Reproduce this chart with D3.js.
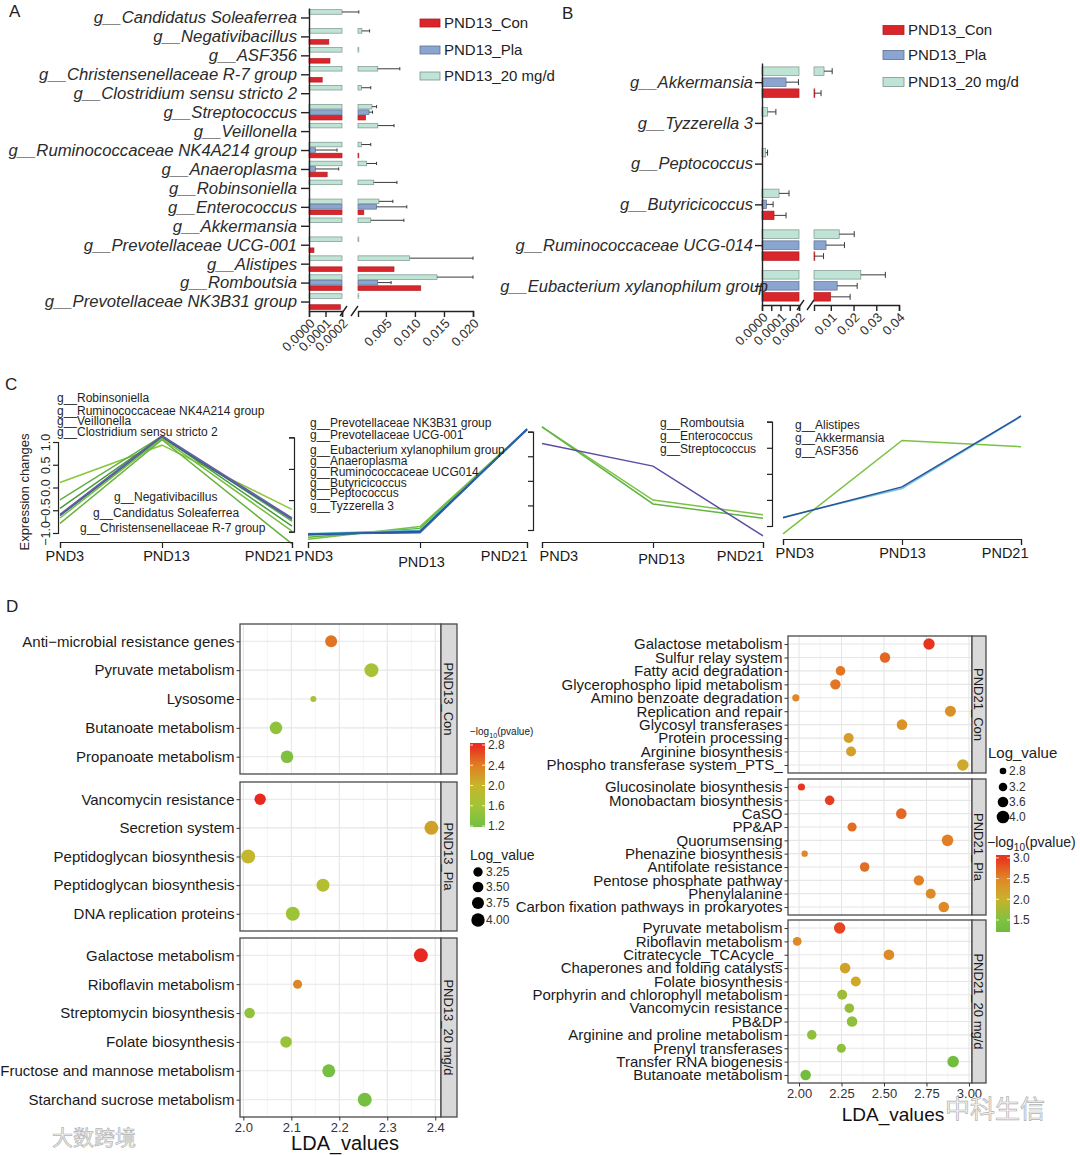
<!DOCTYPE html>
<html>
<head>
<meta charset="utf-8">
<script src="https://d3js.org/d3.v7.min.js"></script>
<style>
  body { margin: 0; background: #fff; }
  svg text { font-family: "Liberation Sans", Arial, Helvetica, sans-serif; }
</style>
</head>
<body>
<svg id="fig" width="1080" height="1155"></svg>
<script>
const FONT = "'Liberation Sans', Arial, Helvetica, sans-serif";

// ---------------- panel A data ----------------
const groups = ["PND13_Con", "PND13_Pla", "PND13_20 mg/d"];
const genusA = [
  "g__Candidatus Soleaferrea", "g__Negativibacillus", "g__ASF356",
  "g__Christensenellaceae R-7 group", "g__Clostridium sensu stricto 2",
  "g__Streptococcus", "g__Veillonella", "g__Ruminococcaceae NK4A214 group",
  "g__Anaeroplasma", "g__Robinsoniella", "g__Enterococcus", "g__Akkermansia",
  "g__Prevotellaceae UCG-001", "g__Alistipes", "g__Romboutsia",
  "g__Prevotellaceae NK3B31 group"];
const conA    = [0, 0.00012, 0.000127, 0.00008, 0, 0.0015, 0, 0.00025, 0.00011, 0, 0.0012, 0, 0.00003, 0.0064, 0.011, 0.00019];
const conAErr = [0, 0, 0, 0, 0, 0, 0, 0, 0, 0, 0, 0, 0, 0, 0, 0];
const plaA    = [0, 0, 0, 0, 0, 0.0021, 0, 0.00004, 0.00004, 0, 0.0034, 0, 0, 0, 0.0036, 0];
const plaAErr = [0, 0, 0, 0, 0, 0.0027, 0, 0.00017, 0.00018, 0, 0.0086, 0, 0, 0, 0.0059, 0];
const mgA     = [0.0002, 0.00086, 0.0003, 0.0036, 0.0008, 0.0026, 0.0036, 0.0008, 0.0017, 0.0029, 0.0038, 0.0024, 0.0003, 0.0091, 0.0138, 0.0003];
const mgAErr  = [0.00034, 0.0022, 0, 0.0074, 0.0024, 0.0034, 0.0064, 0.0024, 0.0034, 0.0069, 0.0062, 0.0081, 0, 0.020, 0.020, 0];
const ticksAL = [0, 0.0001, 0.0002];
const labelsAL = ["0.0000", "0.0001", "0.0002"];
const ticksAR = [0.005, 0.010, 0.015, 0.020];
const labelsAR = ["0.005", "0.010", "0.015", "0.020"];

// ---------------- panel B data ----------------
const genusB = ["g__Akkermansia", "g__Tyzzerella 3", "g__Peptococcus", "g__Butyricicoccus",
  "g__Ruminococcaceae UCG-014", "g__Eubacterium xylanophilum group"];
const conB    = [0.0026, 0, 0, 0.000065, 0.0026, 0.0099];
const conBErr = [0.0057, 0, 0, 0.00013, 0.0068, 0.0185];
const plaB    = [0.00013, 0, 0, 0.000024, 0.0079, 0.0128];
const plaBErr = [0.000197, 0, 0, 0.00006, 0.016, 0.0216];
const mgB     = [0.0070, 0.00003, 0.00002, 0.000092, 0.0137, 0.0232];
const mgBErr  = [0.0106, 0.000075, 0.00003, 0.000146, 0.0203, 0.034];
const ticksBL = [0, 0.00005, 0.0001, 0.00015, 0.0002];
const labelsBL = ["0.0000", "", "0.0001", "", "0.0002"];
const ticksBR = [0.01, 0.02, 0.03, 0.04];
const labelsBR = ["0.01", "0.02", "0.03", "0.04"];

// ---------------- panel C data ----------------
const times = ["PND3", "PND13", "PND21"];
const c1Top = ["g__Robinsoniella", "g__Ruminococcaceae NK4A214 group", "g__Veillonella", "g__Clostridium sensu stricto 2"];
const c1Bottom = ["g__Negativibacillus", "g__Candidatus Soleaferrea", "g__Christensenellaceae R-7 group"];
const c1Lines = [[0.11, 0.93, -0.48], [-0.27, 1.13, -0.74], [-0.46, 1.12, -0.85], [-0.59, 1.14, -0.67],
                 [-0.62, 1.10, -0.70], [-0.67, 1.08, -0.96], [-0.79, 1.05, -1.24]];
const c2Genera = ["g__Prevotellaceae NK3B31 group", "g__Prevotellaceae UCG-001", "g__Eubacterium xylanophilum group",
  "g__Anaeroplasma", "g__Ruminococcaceae UCG014", "g__Butyricicoccus", "g__Peptococcus", "g__Tyzzerella 3"];
const c2Lines = [[-1.16, -0.89, 1.17], [-1.12, -0.93, 1.16], [-1.04, -0.97, 1.15], [-1.05, -0.98, 1.16],
                 [-1.07, -0.99, 1.17], [-1.05, -1.01, 1.18], [-1.06, -1.00, 1.17], [-1.05, -1.02, 1.17]];
const c3Genera = ["g__Romboutsia", "g__Enterococcus", "g__Streptococcus"];
const c3Lines = [[1.10, -0.39, -0.69], [1.10, -0.47, -0.76], [0.76, 0.30, -1.12]];
const c4Genera = ["g__Alistipes", "g__Akkermansia", "g__ASF356"];
const c4Lines = [[-1.15, 0.64, 0.52], [-0.83, -0.28, 1.10], [-0.84, -0.25, 1.11]];

// ---------------- panel D data ----------------
const dL1 = ["Anti\u2212microbial resistance genes", "Pyruvate metabolism", "Lysosome", "Butanoate metabolism", "Propanoate metabolism"];
const dL1Lda = [2.183, 2.267, 2.146, 2.068, 2.091];
const dL1Log = [3.74, 4.11, 2.61, 3.85, 3.85];
const dL1P   = [2.45, 1.65, 1.65, 1.45, 1.3];
const dL2 = ["Vancomycin resistance", "Secretion system", "Peptidoglycan biosynthesis", "Peptidoglycan biosynthesis", "DNA replication proteins"];
const dL2Lda = [2.035, 2.392, 2.010, 2.166, 2.103];
const dL2Log = [3.62, 4.11, 4.11, 3.92, 4.11];
const dL2P   = [2.8, 2.15, 1.95, 1.8, 1.55];
const dL3 = ["Galactose metabolism", "Riboflavin metabolism", "Streptomycin biosynthesis", "Folate biosynthesis",
  "Fructose and mannose metabolism", "Starchand sucrose metabolism"];
const dL3Lda = [2.370, 2.113, 2.013, 2.089, 2.178, 2.253];
const dL3Log = [4.11, 3.18, 3.47, 3.66, 3.92, 4.11];
const dL3P   = [2.84, 2.35, 1.45, 1.5, 1.22, 1.22];
const dLTicks = [2.0, 2.1, 2.2, 2.3, 2.4];
const dLMinor = [2.05, 2.15, 2.25, 2.35];
const dLColorTicks = [2.8, 2.4, 2.0, 1.6, 1.2];
const dLSizeTicks = [3.25, 3.50, 3.75, 4.00];

const dR1 = ["Galactose metabolism", "Sulfur relay system", "Fatty acid degradation", "Glycerophospho lipid metabolism",
  "Amino benzoate degradation", "Replication and repair", "Glycosyl transferases", "Protein processing",
  "Arginine biosynthesis", "Phospho transferase system_PTS_"];
const dR1Lda = [2.765, 2.506, 2.244, 2.214, 1.981, 2.891, 2.606, 2.292, 2.306, 2.964];
const dR1Log = [3.76, 3.56, 3.40, 3.56, 2.92, 3.68, 3.60, 3.48, 3.48, 3.76];
const dR1P   = [3.05, 2.7, 2.6, 2.6, 2.5, 2.4, 2.35, 2.25, 2.2, 2.1];
const dR2 = ["Glucosinolate biosynthesis", "Monobactam biosynthesis", "CaSO", "PP&AP", "Quorumsensing",
  "Phenazine biosynthesis", "Antifolate resistance", "Pentose phosphate pathway", "Phenylalanine",
  "Carbon fixation pathways in prokaryotes"];
const dR2Lda = [2.014, 2.180, 2.602, 2.312, 2.874, 2.033, 2.386, 2.705, 2.775, 2.852];
const dR2Log = [2.92, 3.40, 3.60, 3.32, 3.80, 2.75, 3.40, 3.56, 3.48, 3.60];
const dR2P   = [3.05, 2.95, 2.7, 2.65, 2.55, 2.5, 2.65, 2.55, 2.45, 2.45];
const dR3 = ["Pyruvate metabolism", "Riboflavin metabolism", "Citratecycle_TCAcycle_", "Chaperones and folding catalysts",
  "Folate biosynthesis", "Porphyrin and chlorophyll metabolism", "Vancomycin resistance", "PB&DP",
  "Arginine and proline metabolism", "Prenyl transferases", "Transfer RNA biogenesis", "Butanoate metabolism"];
const dR3Lda = [2.239, 1.989, 2.529, 2.271, 2.334, 2.254, 2.296, 2.312, 2.075, 2.249, 2.907, 2.039];
const dR3Log = [3.76, 3.24, 3.60, 3.60, 3.48, 3.48, 3.40, 3.60, 3.40, 3.28, 3.80, 3.60];
const dR3P   = [2.9, 2.5, 2.45, 2.2, 2.1, 1.7, 1.65, 1.6, 1.6, 1.6, 1.3, 1.3];
const dRTicks = [2.0, 2.25, 2.5, 2.75, 3.0];
const dRMinor = [2.125, 2.375, 2.625, 2.875];
const dRColorTicks = [3.0, 2.5, 2.0, 1.5];
const dRSizeTicks = [2.8, 3.2, 3.6, 4.0];

const svg = d3.select("#fig");

// ---------------- broken-axis bar chart (A, B) ----------------
function brokenBars(o) {
  const g = svg.append("g");
  const n = o.genera.length;
  const y = d3.scalePoint().domain(d3.range(n)).range(o.yRange).padding(o.pad);
  const xl = d3.scaleLinear().domain([0, o.brk]).range([o.x0, o.xb]);
  const xr = d3.scaleLinear().domain(o.rDomain).range(o.rRange);
  const rs = o.rRange[0];
  const pos = v => v <= o.brk ? xl(v) : Math.max(rs, xr(v));

  o.series.forEach((s, k) => {
    const on = d3.range(n).filter(i => s.v[i] > 0);
    const cy = i => y(i) + o.off[k];
    g.append("g").selectAll("rect").data(on).join("rect")
      .attr("x", o.x0).attr("y", i => cy(i) - o.bh / 2)
      .attr("width", i => xl(Math.min(s.v[i], o.brk)) - o.x0)
      .attr("height", o.bh)
      .attr("fill", s.fill).attr("stroke", s.stroke).attr("stroke-width", 0.7);
    g.append("g").selectAll("rect").data(on.filter(i => s.v[i] > o.brk)).join("rect")
      .attr("x", rs).attr("y", i => cy(i) - o.bh / 2)
      .attr("width", i => Math.max(0.8, xr(s.v[i]) - rs))
      .attr("height", o.bh)
      .attr("fill", s.fill).attr("stroke", s.stroke).attr("stroke-width", 0.7);
    g.append("g").selectAll("path").data(on.filter(i => s.e[i] > s.v[i])).join("path")
      .attr("d", i => {
        const a = pos(s.v[i]), b = pos(s.e[i]), c = cy(i);
        return `M${a},${c}H${b}M${b},${c - o.cap}V${c + o.cap}`;
      })
      .attr("stroke", "#3a3a3a").attr("stroke-width", 1).attr("fill", "none");
  });

  // category axis
  const ay = g.append("g").attr("transform", `translate(${o.x0},0)`)
    .call(d3.axisLeft(y).tickSize(o.tick).tickPadding(o.tpad).tickSizeOuter(0).tickFormat(i => o.genera[i]))
    .attr("font-family", FONT);
  ay.selectAll("text").style("font-size", o.fs + "px").style("font-style", "italic")
    .attr("fill", "#2b2b2b").attr("dx", i => o.shift[i]);
  ay.selectAll("line,path").attr("stroke", "#222").attr("stroke-width", 1.4);

  // broken value axis
  const xa = g.append("g").attr("transform", `translate(0,${o.yRange[1]})`);
  xa.append("g").call(d3.axisBottom(xl).tickValues(o.lTicks).tickSizeOuter(0).tickSize(6)
    .tickFormat((d, i) => o.lLabels[i]));
  xa.append("g").call(d3.axisBottom(xr).tickValues(o.rTicks).tickSizeOuter(0).tickSize(6)
    .tickFormat((d, i) => o.rLabels[i]));
  xa.selectAll("g").attr("font-family", FONT);
  xa.selectAll("line,path").attr("stroke", "#222").attr("stroke-width", 1.4);
  xa.selectAll("text").attr("x", 0).attr("y", 0).attr("dy", "0.35em")
    .attr("transform", "translate(3,10) rotate(-45)").attr("text-anchor", "end")
    .style("font-size", "13px").attr("fill", "#333");
  xa.append("path").attr("d", `M${o.xb - 2},5L${o.xb + 5},-5M${rs - 7},5L${rs},-5`)
    .attr("stroke", "#222").attr("stroke-width", 1.4).attr("fill", "none");

  // legend
  const lg = g.append("g");
  groups.forEach((name, i) => {
    const s = o.series[i], ly = o.legY[i];
    lg.append("rect").attr("x", o.legX).attr("y", ly - o.legH / 2).attr("width", o.legW).attr("height", o.legH)
      .attr("fill", s.fill).attr("stroke", s.stroke).attr("stroke-width", 0.8);
    lg.append("text").attr("x", o.legX + o.legW + 4).attr("y", ly).attr("dy", "0.36em")
      .style("font-size", "15px").attr("fill", "#222").text(name);
  });
}

const conStyle = { fill: "#d8262c", stroke: "#b21d22" };
const plaStyle = { fill: "#8aa5cf", stroke: "#5c6f92" };
const mgStyle  = { fill: "#bfe3d4", stroke: "#7d958c" };

brokenBars({
  genera: genusA, yRange: [8, 311], pad: 0.5, x0: 309, xb: 342, brk: 0.0002,
  rDomain: [0.0002, 0.02], rRange: [358, 473],
  series: [
    Object.assign({ v: conA, e: conAErr }, conStyle),
    Object.assign({ v: plaA, e: plaAErr }, plaStyle),
    Object.assign({ v: mgA, e: mgAErr }, mgStyle)],
  off: [5.5, 0, -5.5], bh: 4.6, cap: 1.6, tick: 8, tpad: 4, fs: 16.7,
  shift: genusA.map(() => 0),
  lTicks: ticksAL, lLabels: labelsAL, rTicks: ticksAR, rLabels: labelsAR,
  legX: 420, legW: 20, legH: 8, legY: [23, 50, 76]
});

brokenBars({
  genera: genusB, yRange: [63, 305], pad: 0.47, x0: 762, xb: 799, brk: 0.0002,
  rDomain: [0.0026, 0.04], rRange: [814, 899],
  series: [
    Object.assign({ v: conB, e: conBErr }, conStyle),
    Object.assign({ v: plaB, e: plaBErr }, plaStyle),
    Object.assign({ v: mgB, e: mgBErr }, mgStyle)],
  off: [11, 0, -11], bh: 8.5, cap: 3, tick: 7, tpad: 2, fs: 16.5,
  shift: [0, 0, 0, 0, 0, 15],
  lTicks: ticksBL, lLabels: labelsBL, rTicks: ticksBR, rLabels: labelsBR,
  legX: 883, legW: 21, legH: 9, legY: [30, 55, 82]
});

// ---------------- panel C: trend lines ----------------
function linePanel(o) {
  const g = svg.append("g");
  const x = d3.scaleLinear().domain([0, 1, 2]).range(o.xs);
  const y = d3.scaleLinear().domain([-1, 1]).range(o.ys);
  g.selectAll("path.ln").data(o.lines).join("path").attr("class", "ln")
    .attr("d", d3.line().x((d, i) => x(i)).y(d => y(d)))
    .attr("fill", "none").attr("stroke", (d, i) => o.colors[i]).attr("stroke-width", 1.5);

  const yAxis = d3.axisLeft(y).tickValues(o.yTicks).tickSize(5);
  yAxis.tickFormat(o.yLabels ? d3.format(".1f") : "");
  const ay = g.append("g").attr("transform", `translate(${o.yAxisX},0)`).call(yAxis).attr("font-family", FONT);
  ay.selectAll("line,path").attr("stroke", "#222").attr("stroke-width", 1.2);
  ay.selectAll("text").attr("x", 0).attr("dy", 0).attr("transform", "translate(-8,0) rotate(-90)")
    .attr("text-anchor", "middle").style("font-size", "12.5px").attr("fill", "#222");

  const ax = g.append("g").attr("transform", `translate(0,${o.xAxisY})`)
    .call(d3.axisBottom(x).tickValues([0, 1, 2]).tickSizeOuter(0).tickSize(6).tickFormat(i => times[i]))
    .attr("font-family", FONT);
  ax.selectAll("line,path").attr("stroke", "#222").attr("stroke-width", 1.2);
  ax.selectAll("text").style("font-size", "14.5px").attr("fill", "#1a1a1a")
    .attr("text-anchor", (d, i) => ["start", "middle", "end"][i])
    .attr("dx", (d, i) => o.lblDx[i]).attr("y", (d, i) => 9 + o.lblDy[i]);

  g.selectAll("text.gl").data(o.labels).join("text").attr("class", "gl")
    .attr("x", (d, i) => o.labelPos[i][0]).attr("y", (d, i) => o.labelPos[i][1])
    .style("font-size", "12px").attr("fill", "#1e1e1e").text(d => d);
}

linePanel({
  xs: [60, 162, 292], ys: [533, 442], yAxisX: 58, xAxisY: 542,
  yTicks: [-1, -0.5, 0, 0.5, 1], yLabels: true,
  lines: c1Lines,
  colors: ["#8cc63f", "#5fb246", "#4a9a3a", "#6b5aa6", "#3f5d96", "#76bd43", "#67b23e"],
  labels: c1Top.concat(c1Bottom),
  labelPos: [[57, 402], [57, 415], [57, 425], [57, 436], [114, 501], [93, 517], [80, 532]],
  lblDx: [-15, 4, -1], lblDy: [0, 0, 0]
});
linePanel({
  xs: [308, 420, 527], ys: [531.7, 437.3], yAxisX: 294, xAxisY: 542,
  yTicks: [-1, -0.33, 0.33, 1], yLabels: false,
  lines: c2Lines,
  colors: ["#7cc242", "#5fb246", "#93d5e2", "#3ba3b5", "#2d8c9e", "#3b7fc0", "#263f84", "#2f63ad"],
  labels: c2Genera,
  labelPos: [[310, 427], [310, 439], [310, 454], [310, 465], [310, 476], [310, 487], [310, 497], [310, 510]],
  lblDx: [-14, 1, 0], lblDy: [0, 6, 0]
});
linePanel({
  xs: [542, 653, 763], ys: [530, 431.7], yAxisX: 533, xAxisY: 542,
  yTicks: [-1, -0.5, 0, 0.5, 1], yLabels: false,
  lines: c3Lines,
  colors: ["#7cc242", "#62b446", "#5a4ea3"],
  labels: c3Genera,
  labelPos: [[660, 427], [660, 440], [660, 453]],
  lblDx: [-3, 8, 0], lblDy: [0, 3, 0]
});
linePanel({
  xs: [783, 902, 1021], ys: [526, 421.7], yAxisX: 772, xAxisY: 539,
  yTicks: [-1, -0.5, 0, 0.5, 1], yLabels: false,
  lines: c4Lines,
  colors: ["#7cc242", "#6fc6d8", "#2a4f9b"],
  labels: c4Genera,
  labelPos: [[795, 429], [795, 442], [795, 455]],
  lblDx: [-8, 0, 7], lblDy: [0, 0, 0]
});
svg.append("text").attr("transform", "translate(29,492) rotate(-90)").attr("text-anchor", "middle")
  .style("font-size", "13px").attr("fill", "#222").text("Expression changes");

// ---------------- panel D: LDA dot plots ----------------
function dotFacets(o) {
  const g = svg.append("g");
  const x = d3.scaleLinear().domain(o.xDomain).range([o.x0, o.x1]);
  o.facets.forEach(f => {
    const n = f.items.length;
    const y = d3.scalePoint().domain(d3.range(n)).range([f.top, f.bottom]).padding(0.6);
    const fg = g.append("g");
    fg.append("rect").attr("x", o.x0).attr("y", f.top).attr("width", o.x1 - o.x0).attr("height", f.bottom - f.top)
      .attr("fill", "#fff");
    fg.selectAll("line.mi").data(o.minor).join("line").attr("class", "mi")
      .attr("x1", d => x(d)).attr("x2", d => x(d)).attr("y1", f.top).attr("y2", f.bottom)
      .attr("stroke", "#f0f0f0").attr("stroke-width", 0.7);
    fg.selectAll("line.ma").data(o.major).join("line").attr("class", "ma")
      .attr("x1", d => x(d)).attr("x2", d => x(d)).attr("y1", f.top).attr("y2", f.bottom)
      .attr("stroke", "#e6e6e6").attr("stroke-width", 1.1);
    fg.selectAll("line.hy").data(d3.range(n)).join("line").attr("class", "hy")
      .attr("x1", o.x0).attr("x2", o.x1).attr("y1", i => y(i)).attr("y2", i => y(i))
      .attr("stroke", "#e6e6e6").attr("stroke-width", 1.1);
    fg.selectAll("circle").data(d3.range(n)).join("circle")
      .attr("cx", i => x(f.lda[i])).attr("cy", i => y(i))
      .attr("r", i => o.size(f.logv[i])).attr("fill", i => o.color(f.pv[i]));
    fg.append("rect").attr("x", o.x0).attr("y", f.top).attr("width", o.x1 - o.x0).attr("height", f.bottom - f.top)
      .attr("fill", "none").attr("stroke", "#4a4a4a").attr("stroke-width", 1.3);
    fg.append("rect").attr("x", o.x1).attr("y", f.top).attr("width", o.sw).attr("height", f.bottom - f.top)
      .attr("fill", "#d9d9d9").attr("stroke", "#4a4a4a").attr("stroke-width", 1.3);
    fg.append("text").attr("transform", `translate(${o.x1 + o.sw / 2},${(f.top + f.bottom) / 2}) rotate(90)`)
      .attr("text-anchor", "middle").attr("dy", "0.36em").style("font-size", "13px").attr("fill", "#1a1a1a")
      .text(f.name);
    const ay = fg.append("g").attr("transform", `translate(${o.x0},0)`)
      .call(d3.axisLeft(y).tickSize(3.5).tickPadding(2).tickFormat(i => f.items[i]))
      .attr("font-family", FONT);
    ay.select(".domain").remove();
    ay.selectAll("line").attr("stroke", "#333");
    ay.selectAll("text").style("font-size", o.fs + "px").attr("fill", "#1a1a1a");
  });
  const last = o.facets[o.facets.length - 1];
  const ax = g.append("g").attr("transform", `translate(0,${last.bottom})`)
    .call(d3.axisBottom(x).tickValues(o.major).tickSize(3.5).tickPadding(2).tickFormat(d3.format(o.fmt)))
    .attr("font-family", FONT);
  ax.select(".domain").remove();
  ax.selectAll("line").attr("stroke", "#333");
  ax.selectAll("text").style("font-size", "13px").attr("fill", "#333");
  g.append("text").attr("x", o.titleX).attr("y", o.titleY).attr("text-anchor", "middle")
    .style("font-size", o.titleFs + "px").attr("fill", "#111").text("LDA_values");
}

function colorBar(o) {
  const g = svg.append("g");
  const id = "grad" + o.id;
  const grad = svg.append("defs").append("linearGradient").attr("id", id)
    .attr("x1", 0).attr("y1", 1).attr("x2", 0).attr("y2", 0);
  const stops = d3.range(0, 1.0001, 0.05);
  grad.selectAll("stop").data(stops).join("stop")
    .attr("offset", t => t)
    .attr("stop-color", t => o.color(o.domain[0] + t * (o.domain[1] - o.domain[0])));
  const cy = d3.scaleLinear().domain(o.domain).range([o.y0 + o.h, o.y0]);
  g.append("rect").attr("x", o.x).attr("y", o.y0).attr("width", o.w).attr("height", o.h).attr("fill", `url(#${id})`);
  g.selectAll("path.tk").data(o.ticks).join("path").attr("class", "tk")
    .attr("d", d => `M${o.x},${cy(d)}h3M${o.x + o.w},${cy(d)}h-3`)
    .attr("stroke", "#fff").attr("stroke-width", 0.8);
  g.selectAll("text.tl").data(o.ticks).join("text").attr("class", "tl")
    .attr("x", o.x + o.w + 3).attr("y", d => cy(d)).attr("dy", "0.36em")
    .style("font-size", "12px").attr("fill", "#333").text(d => d.toFixed(1));
  const t = g.append("text").attr("x", o.tx).attr("y", o.ty).style("font-size", o.tfs + "px").attr("fill", "#222");
  t.append("tspan").text("\u2212log");
  t.append("tspan").attr("dy", o.tfs * 0.3).style("font-size", (o.tfs * 0.72) + "px").text("10");
  t.append("tspan").attr("dy", -o.tfs * 0.3).text("(pvalue)");
}

function sizeLegend(o) {
  const g = svg.append("g");
  g.append("text").attr("x", o.tx).attr("y", o.ty).style("font-size", o.tfs + "px").attr("fill", "#222").text("Log_value");
  g.selectAll("circle").data(o.values).join("circle")
    .attr("cx", o.cx).attr("cy", (d, i) => o.ys[i]).attr("r", d => o.size(d)).attr("fill", "#000");
  g.selectAll("text.sl").data(o.values).join("text").attr("class", "sl")
    .attr("x", o.lx).attr("y", (d, i) => o.ys[i]).attr("dy", "0.36em")
    .style("font-size", "12px").attr("fill", "#333").text(d => d3.format(o.fmt)(d));
}

const colorL = d3.scaleLinear().domain([1.2, 1.6, 2.0, 2.4, 2.8])
  .range(["#74bf44", "#a3c437", "#c6b52b", "#e07f24", "#e8291f"]).clamp(true);
const colorR = d3.scaleLinear().domain([1.2, 1.5, 2.0, 2.5, 3.0])
  .range(["#6dbb3c", "#80c241", "#c9b22b", "#e08726", "#e8341e"]).clamp(true);
const sizeL = d3.scaleLinear().domain([3.25, 4.0]).range([4.7, 6.7]);
const sizeR = d3.scaleLinear().domain([2.8, 4.0]).range([3.3, 6.3]);

dotFacets({
  x0: 240, x1: 441, sw: 16, xDomain: [1.993, 2.412], major: dLTicks, minor: dLMinor, fmt: ".1f",
  size: sizeL, color: colorL, fs: 15, titleX: 345, titleY: 1150, titleFs: 20,
  facets: [
    { name: "PND13_Con", top: 624, bottom: 774, items: dL1, lda: dL1Lda, logv: dL1Log, pv: dL1P },
    { name: "PND13_Pla", top: 782, bottom: 931, items: dL2, lda: dL2Lda, logv: dL2Log, pv: dL2P },
    { name: "PND13_20 mg/d", top: 938, bottom: 1117, items: dL3, lda: dL3Lda, logv: dL3Log, pv: dL3P }]
});
dotFacets({
  x0: 788, x1: 972, sw: 14, xDomain: [1.935, 3.018], major: dRTicks, minor: dRMinor, fmt: ".2f",
  size: sizeR, color: colorR, fs: 15, titleX: 893, titleY: 1121, titleFs: 19,
  facets: [
    { name: "PND21_Con", top: 636, bottom: 773, items: dR1, lda: dR1Lda, logv: dR1Log, pv: dR1P },
    { name: "PND21_Pla", top: 779, bottom: 915, items: dR2, lda: dR2Lda, logv: dR2Log, pv: dR2P },
    { name: "PND21_20 mg/d", top: 920, bottom: 1083, items: dR3, lda: dR3Lda, logv: dR3Log, pv: dR3P }]
});

colorBar({ id: "L", color: colorL, domain: [1.18, 2.84], ticks: dLColorTicks,
  x: 470, y0: 743, w: 15, h: 84, tx: 470, ty: 735, tfs: 10 });
colorBar({ id: "R", color: colorR, domain: [1.21, 3.07], ticks: dRColorTicks,
  x: 996, y0: 855, w: 14, h: 77, tx: 987, ty: 847, tfs: 14 });
sizeLegend({ values: dLSizeTicks, size: sizeL, ys: [872, 887, 903, 920], cx: 478, lx: 486,
  tx: 470, ty: 860, tfs: 14, fmt: ".2f" });
sizeLegend({ values: dRSizeTicks, size: sizeR, ys: [771, 787, 802, 817], cx: 1003, lx: 1009,
  tx: 988, ty: 758, tfs: 15, fmt: ".1f" });

// ---------------- panel letters and watermarks ----------------
[["A", 9, 17], ["B", 562, 19], ["C", 5, 390], ["D", 6, 612]].forEach(([t, x, y]) =>
  svg.append("text").attr("x", x).attr("y", y).style("font-size", "17px").attr("fill", "#222").text(t));

svg.append("text").attr("x", 52).attr("y", 1145)
  .style("font-family", "'Noto Sans CJK SC', sans-serif").style("font-size", "21px")
  .attr("fill", "#f4f4f4").attr("stroke", "#b5b5b5").attr("stroke-width", 0.7).text("大数跨境");
svg.append("text").attr("x", 945).attr("y", 1118)
  .style("font-family", "'Noto Sans CJK SC', sans-serif").style("font-size", "25px")
  .attr("fill", "#f2f2f2").attr("fill-opacity", 0.6).attr("stroke", "#b0b0b0").attr("stroke-width", 0.7)
  .text("中科生信");
</script>
</body>
</html>
